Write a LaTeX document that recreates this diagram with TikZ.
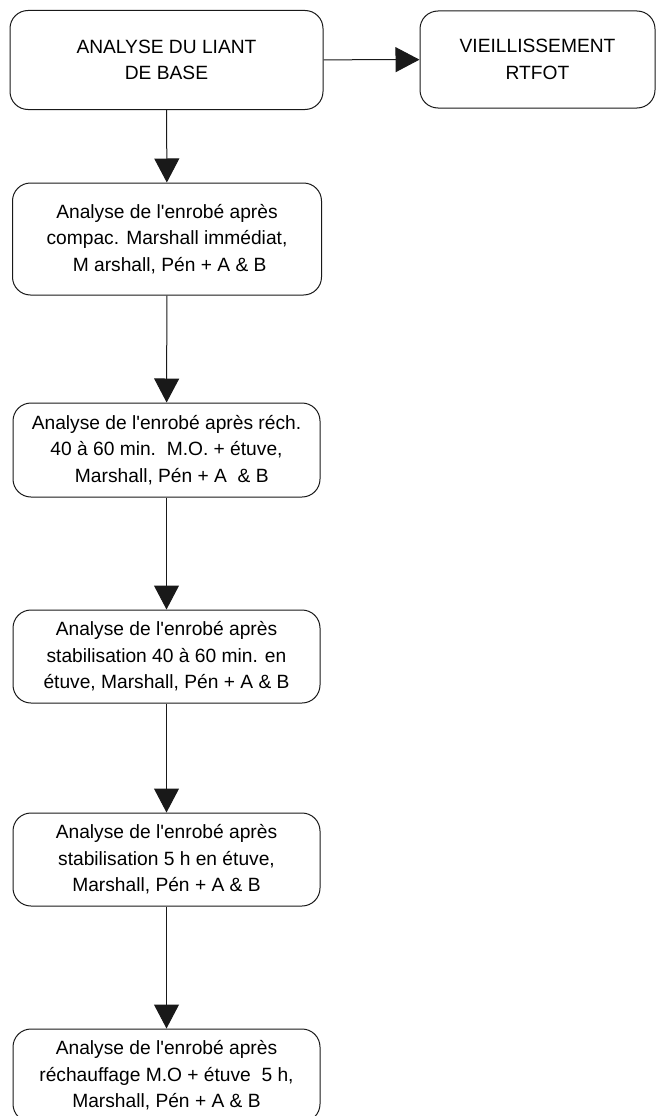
\documentclass[tikz,border=0pt]{standalone}
\usepackage{fontspec}
\setmainfont{Liberation Sans}
\usepackage{tikz}
\usetikzlibrary{arrows.meta}
\tikzset{every picture/.style={line width=1pt}}
\tikzset{
  etape/.style={draw=black!90, rounded corners=18pt, align=center, inner sep=0pt,
    font=\fontsize{19.2}{26.5}\selectfont},
  fleche/.style={draw=black!90, -{Triangle[length=24pt,width=25pt]}}
}
\newcommand{\apos}{\textquotesingle}

\begin{document}
\begin{tikzpicture}[x=1pt,y=-1pt]
\useasboundingbox (0,0) rectangle (656,1116);
\node[etape, minimum width=313pt, minimum height=99pt] (liant) at (166.5,60) {ANALYSE DU LIANT\\DE BASE};
\node[etape, minimum width=235pt, minimum height=97pt] (rtfot) at (537.5,59.5) {VIEILLISSEMENT\\RTFOT};
%
\node[etape, minimum width=309pt, minimum height=112pt] (e1) at (167,239) {Analyse de l\apos enrobé après\\compac. Marshall immédiat,\\\ M arshall, Pén + A \& B};
\node[etape, minimum width=307pt, minimum height=94pt] (e2) at (166.5,450) {Analyse de l\apos enrobé après réch.\\40 à 60 min.\ \ M.O. + étuve,\\\ \ Marshall, Pén + A\ \ \& B};
\node[etape, minimum width=307pt, minimum height=93pt] (e3) at (166.5,656.5) {Analyse de l\apos enrobé après\\stabilisation 40 à 60 min. en\\étuve, Marshall, Pén + A \& B};
\node[etape, minimum width=307pt, minimum height=93pt] (e4) at (166.5,859.5) {Analyse de l\apos enrobé après\\stabilisation 5 h en étuve,\\Marshall, Pén + A \& B};
\node[etape, minimum width=307pt, minimum height=93pt] (e5) at (166.5,1075.5) {Analyse de l\apos enrobé après\\réchauffage M.O + étuve\ \ 5 h,\\Marshall, Pén + A \& B};
%
\draw[fleche] (liant) -- (rtfot);
\draw[fleche] (liant) -- (e1);
\draw[fleche] (e1) -- (e2);
\draw[fleche] (e2) -- (e3);
\draw[fleche] (e3) -- (e4);
\draw[fleche] (e4) -- (e5);
\end{tikzpicture}
\end{document}
